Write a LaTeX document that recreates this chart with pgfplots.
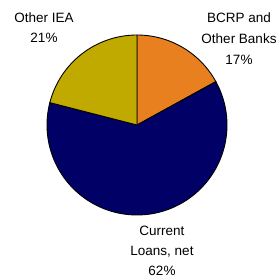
\documentclass[border=0pt]{standalone}
\usepackage{pgfplots}
\pgfplotsset{compat=1.18}
\usepackage{fontspec}
\setmainfont{Liberation Sans}
\definecolor{pieorange}{RGB}{232,128,32}
\definecolor{pienavy}{RGB}{0,0,102}
\definecolor{pieolive}{RGB}{192,170,0}
\begin{document}
\begin{tikzpicture}
\begin{axis}[x=1pt,y=1pt,xmin=0,xmax=279,ymin=0,ymax=278,hide axis,clip=false]
% BCRP and Other Banks 17% -> 61.2 deg; Current Loans 62% -> 223.2 deg; Other IEA 21% -> 75.6 deg
\addplot[draw=black, line width=0.9pt, fill=pieorange, domain=28.8:90, samples=40] ({137+90*cos(x)},{153+90*sin(x)}) -- (axis cs:137,153) -- cycle;
\addplot[draw=black, line width=0.9pt, fill=pienavy, domain=-194.4:28.8, samples=120] ({137+90*cos(x)},{153+90*sin(x)}) -- (axis cs:137,153) -- cycle;
\addplot[draw=black, line width=0.9pt, fill=pieolive, domain=90:165.6, samples=40] ({137+90*cos(x)},{153+90*sin(x)}) -- (axis cs:137,153) -- cycle;
\node[align=center, font=\fontsize{13.5}{20}\selectfont] at (axis cs:44,250) {Other IEA\\21\%};
\node[align=center, font=\fontsize{13.5}{21}\selectfont] at (axis cs:239,239) {BCRP and\\Other Banks\\17\%};
\node[align=center, font=\fontsize{13.5}{20}\selectfont] at (axis cs:162,27) {Current\\Loans, net\\62\%};
\end{axis}
\pgfresetboundingbox
\path[use as bounding box] (current axis.south west) rectangle (current axis.north east);
\end{tikzpicture}
\end{document}
